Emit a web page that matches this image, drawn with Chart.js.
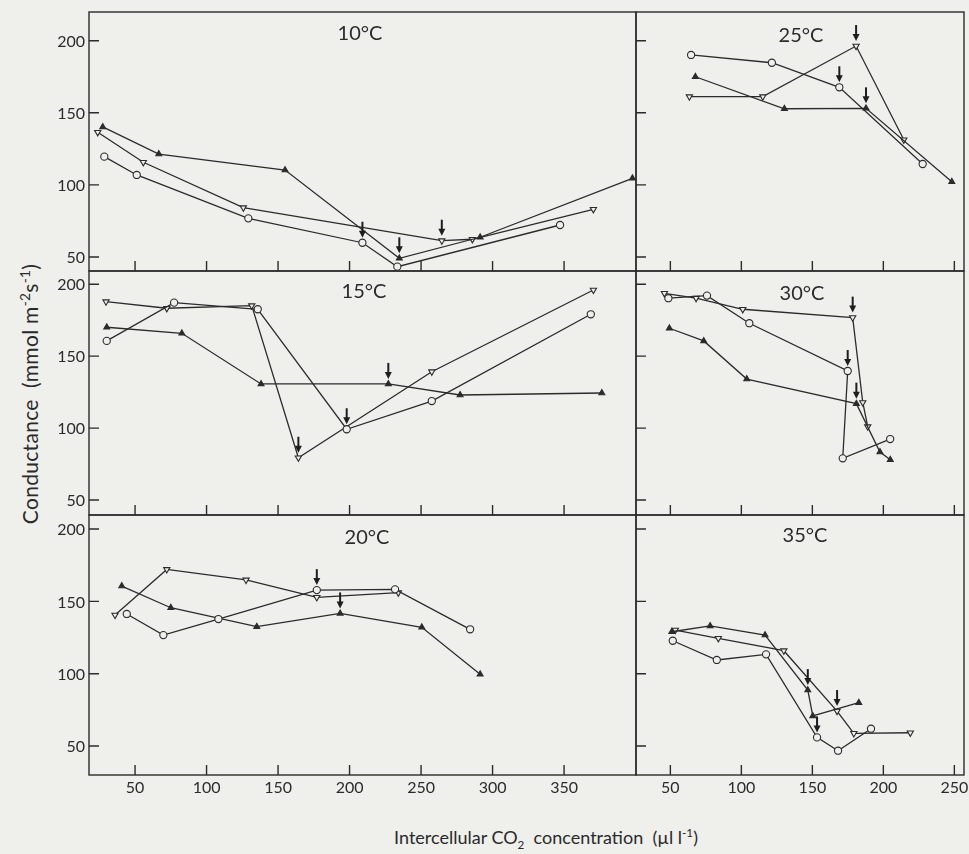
<!DOCTYPE html>
<html>
<head>
<meta charset="utf-8">
<script src="https://cdn.jsdelivr.net/npm/chart.js@4.4.1/dist/chart.umd.min.js"></script>
<style>
html,body{margin:0;padding:0;background:#efefec;}
#wrap{position:relative;width:969px;height:854px;overflow:hidden;background:#efefec;}
#wrap canvas{position:absolute;left:0;top:0;}
.ytitle{position:absolute;left:29px;top:394px;transform:translate(-50%,-50%) rotate(-90deg);white-space:nowrap;font-family:Lato,"DejaVu Sans",sans-serif;font-size:21px;letter-spacing:0.3px;color:#2a2a2a;}
.xtitle{position:absolute;left:546px;top:838px;transform:translate(-50%,-50%);white-space:nowrap;font-family:Lato,"DejaVu Sans",sans-serif;font-size:18px;color:#2a2a2a;}
sup,sub{font-size:65%;}
</style>
</head>
<body>
<div id="wrap">
  <div class="ytitle">Conductance&nbsp; (mmol m<sup>-2</sup>s<sup>-1</sup>)</div>
  <div class="xtitle">Intercellular CO<sub>2</sub>&nbsp; concentration&nbsp; (µl l<sup>-1</sup>)</div>
</div>
<script>
// ---------- data ----------
const xTicksLeft  = [50, 100, 150, 200, 250, 300, 350];
const xTicksRight = [50, 100, 150, 200, 250];
const yTicks      = [50, 100, 150, 200];
const panelLabels = ['10°C', '25°C', '15°C', '30°C', '20°C', '35°C'];

// 10 °C
const t10Circle = [[28.5,119.6],[51.2,106.9],[129.2,76.8],[209,59.9],[233.4,43.3],[347.2,72.2]];
const t10Up     = [[27.4,140.2],[66.6,121.4],[154.9,110.3],[234.8,49.1],[291.3,63.7],[397.8,104.6]];
const t10Down   = [[23.9,136.5],[55.8,115.7],[125.7,84.2],[264.5,61.3],[285.9,62.3],[370.5,83.1]];
const t10Arrows = [[209,59.9],[234.8,49.1],[264.5,61.3]];

// 25 °C
const t25Circle = [[64.6,190.1],[121.5,184.7],[169,167.7],[227.7,114.5]];
const t25Up     = [[67.6,175.0],[130.3,152.8],[187.8,153.1],[248.2,102.2]];
const t25Down   = [[63.4,161.2],[115.1,161.2],[180.8,196.3],[214.4,131.3]];
const t25Arrows = [[180.8,196.3],[169,167.7],[187.8,153.1]];

// 15 °C
const t15Circle = [[30.2,160.6],[77.3,187.2],[135.8,182.6],[198,99.2],[257.5,118.8],[368.7,179.1]];
const t15Up     = [[30.2,170.1],[82.7,165.9],[138.1,130.7],[227.1,130.7],[277.3,123.0],[376.4,124.4]];
const t15Down   = [[29.7,187.9],[72.2,183.3],[131.6,185.1],[164.2,79.4],[257.5,139.2],[370.5,196.0]];
const t15Arrows = [[164.2,79.4],[198,99.2],[227.1,130.7]];

// 30 °C
const t30Circle = [[48.6,190.3],[75.8,192.1],[105.6,172.9],[174.9,139.7],[171.4,79.0],[204.8,92.4]];
const t30Up     = [[49.3,169.4],[73.5,160.6],[103.8,134.1],[181.0,117.0],[197.6,83.4],[204.9,78.0]];
const t30Down   = [[45.8,193.7],[68.1,190.3],[101,182.6],[178.4,176.8],[185.5,117.8],[189,101.0]];
const t30Arrows = [[178.4,176.8],[174.9,139.7],[181.0,117.0]];

// 20 °C
const t20Circle = [[44.2,141.3],[69.8,126.7],[108.3,137.8],[177.1,157.8],[231.8,158.3],[284.3,130.7]];
const t20Up     = [[40.7,160.6],[75,145.6],[135.1,132.5],[193.4,141.7],[250.5,132.1],[291.3,99.6]];
const t20Down   = [[36,140.6],[72.2,172.1],[127.6,164.8],[177.1,152.8],[234.1,156.0]];
const t20Arrows = [[177.1,157.8],[193.4,141.7]];

// 35 °C
const t35Circle = [[51.7,122.8],[82.7,109.5],[117.4,113.4],[153.3,56.0],[168.1,46.8],[191.3,62.0]];
const t35Up     = [[51,129.0],[78,133.0],[116.7,126.7],[146.8,88.7],[150.3,70.8],[182.7,80]];
const t35Down   = [[53.5,130.2],[83.8,124.5],[129.9,115.9],[167.4,74.2],[179.2,58.8],[219,59.2]];
const t35Arrows = [[146.8,88.7],[167.4,74.2],[153.3,56.0]];

// ---------- styling / layout ----------
const BG = '#efefec';
const INK = '#2b2b2b';
const FONT = 'Lato, "DejaVu Sans", sans-serif';
const W = 969, H = 854;
const colL = {left: 89, right: W - 636, xmin: 17.8, xmax: 400.3, ticks: xTicksLeft};
const colR = {left: 636, right: W - 964, xmin: 25.8, xmax: 256.8, ticks: xTicksRight};
const rows = [
  {top: 12,  bottom: H - 271, ymin: 40.3, ymax: 219.9},
  {top: 271, bottom: H - 515, ymin: 39.6, ymax: 209.2},
  {top: 515, bottom: H - 775, ymin: 30.0, ymax: 209.7}
];

function ds(points, kind) {
  const base = {
    data: points.map(([x, y]) => ({x, y})),
    showLine: true, borderColor: INK, borderWidth: 1.3, tension: 0, clip: false,
    pointRadius: 3.6, pointBorderWidth: 1.1, pointBorderColor: INK, pointHoverRadius: 3.6
  };
  if (kind === 'circle') return {...base, pointStyle: 'circle', pointBackgroundColor: BG, order: 0};
  if (kind === 'up') return {...base, pointStyle: 'triangle', pointBackgroundColor: INK, pointRadius: 3.4, order: 1};
  return {...base, pointStyle: 'triangle', pointRotation: 180, pointBackgroundColor: BG, pointRadius: 3.6, order: 2};
}

const decor = {
  id: 'decor',
  beforeDatasetsDraw(chart, args, o) {
    const {ctx, chartArea: a, scales: {x, y}} = chart;
    ctx.save();
    ctx.strokeStyle = INK; ctx.lineWidth = 1.4;
    ctx.strokeRect(a.left, a.top, a.right - a.left, a.bottom - a.top);
    ctx.beginPath();
    o.yTicks.forEach(v => {
      const py = y.getPixelForValue(v);
      ctx.moveTo(a.left, py); ctx.lineTo(a.left + 10, py);
    });
    o.xTicks.forEach(v => {
      const px = x.getPixelForValue(v);
      ctx.moveTo(px, a.bottom); ctx.lineTo(px, a.bottom - 10);
    });
    ctx.stroke();
    ctx.fillStyle = INK;
    ctx.font = '16px ' + FONT;
    if (o.showY) {
      ctx.textAlign = 'right'; ctx.textBaseline = 'middle';
      o.yTicks.forEach(v => ctx.fillText(String(v), a.left - 4, y.getPixelForValue(v) + 1));
    }
    if (o.showX) {
      ctx.textAlign = 'center'; ctx.textBaseline = 'middle';
      o.xTicks.forEach(v => ctx.fillText(String(v), x.getPixelForValue(v), a.bottom + 13));
    }
    ctx.font = '20px ' + FONT;
    ctx.textAlign = 'center'; ctx.textBaseline = 'middle';
    ctx.fillText(o.label, a.left + o.labelDx, a.top + o.labelDy);
    ctx.restore();
  },
  afterDatasetsDraw(chart, args, o) {
    const {ctx, scales: {x, y}} = chart;
    ctx.save();
    ctx.fillStyle = '#1e1e1e'; ctx.strokeStyle = '#1e1e1e';
    o.arrows.forEach(([vx, vy]) => {
      const px = x.getPixelForValue(vx);
      const tip = y.getPixelForValue(vy) - 5;
      ctx.lineWidth = 2;
      ctx.beginPath(); ctx.moveTo(px, tip - 16); ctx.lineTo(px, tip - 5); ctx.stroke();
      ctx.beginPath(); ctx.moveTo(px - 3.5, tip - 7); ctx.lineTo(px + 3.5, tip - 7); ctx.lineTo(px, tip); ctx.closePath(); ctx.fill();
    });
    ctx.restore();
  }
};

function makePanel(col, row, series, arrows, label, labelDx, labelDy, showX, showY) {
  const c = document.createElement('canvas');
  c.width = W; c.height = H;
  document.getElementById('wrap').appendChild(c);
  new Chart(c, {
    type: 'scatter',
    data: {datasets: [ds(series[0], 'circle'), ds(series[1], 'up'), ds(series[2], 'down')]},
    options: {
      responsive: false, animation: false, events: [],
      layout: {padding: {left: col.left, right: col.right, top: row.top, bottom: row.bottom}},
      scales: {
        x: {type: 'linear', min: col.xmin, max: col.xmax, display: false},
        y: {type: 'linear', min: row.ymin, max: row.ymax, display: false}
      },
      plugins: {
        legend: {display: false}, tooltip: {enabled: false},
        decor: {xTicks: col.ticks, yTicks: yTicks, showX, showY, label, labelDx, labelDy, arrows}
      }
    },
    plugins: [decor]
  });
}

makePanel(colL, rows[0], [t10Circle, t10Up, t10Down], t10Arrows, panelLabels[0], 271, 22, false, true);
makePanel(colR, rows[0], [t25Circle, t25Up, t25Down], t25Arrows, panelLabels[1], 165, 24, false, false);
makePanel(colL, rows[1], [t15Circle, t15Up, t15Down], t15Arrows, panelLabels[2], 275, 21, false, true);
makePanel(colR, rows[1], [t30Circle, t30Up, t30Down], t30Arrows, panelLabels[3], 166, 23, false, false);
makePanel(colL, rows[2], [t20Circle, t20Up, t20Down], t20Arrows, panelLabels[4], 278, 23, true, true);
makePanel(colR, rows[2], [t35Circle, t35Up, t35Down], t35Arrows, panelLabels[5], 169, 21, true, false);
</script>
</body>
</html>
